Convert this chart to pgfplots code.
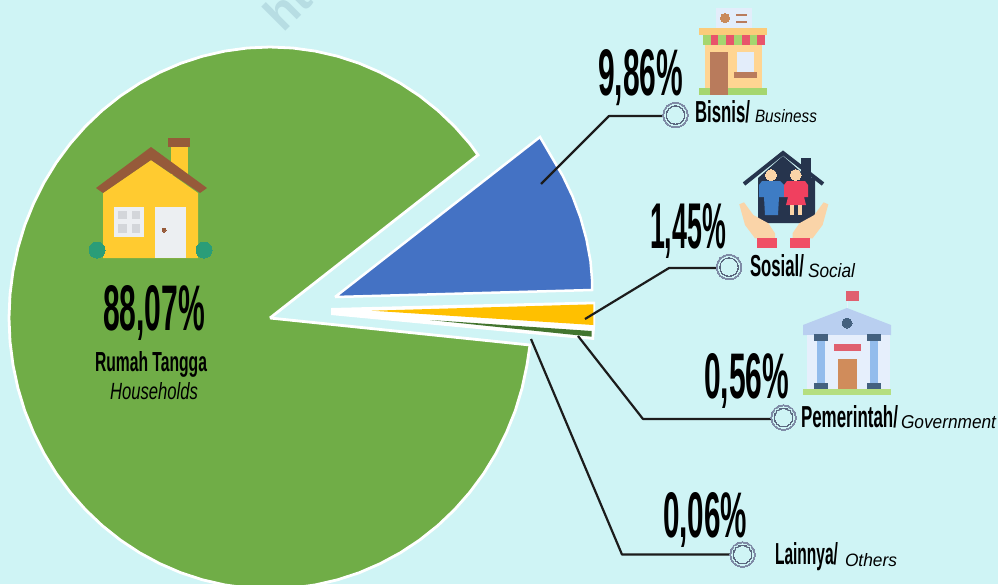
\documentclass[border=0pt]{standalone}
\usepackage{graphicx}
\usepackage{fontspec}
\setmainfont{Liberation Sans}
\usepackage{pgfplots}
\pgfplotsset{compat=1.18}
\definecolor{bg}{HTML}{CFF4F5}
\definecolor{pgreen}{HTML}{70AD47}
\definecolor{pblue}{HTML}{4472C4}
\definecolor{pyellow}{HTML}{FFC000}
\definecolor{pdark}{HTML}{43752F}
\definecolor{wm}{HTML}{B7DDE3}
\definecolor{ring}{HTML}{7F8BA6}
\definecolor{ringd}{HTML}{5A667E}
\definecolor{lead}{HTML}{1C1C1C}
\definecolor{hwall}{HTML}{FFCB30}
\definecolor{hroof}{HTML}{965A3A}
\definecolor{hbush}{HTML}{2A9D78}
\definecolor{hwin}{HTML}{ECEFF2}
\definecolor{hpane}{HTML}{D3D6DA}
\definecolor{ssign}{HTML}{E3EDFA}
\definecolor{scof}{HTML}{C98A5A}
\definecolor{sawn}{HTML}{FBCB7A}
\definecolor{swall}{HTML}{FFD592}
\definecolor{sdoor}{HTML}{B97B5C}
\definecolor{sgrn}{HTML}{A5D66F}
\definecolor{sred}{HTML}{E8546B}
\definecolor{navy}{HTML}{26344D}
\definecolor{mblue}{HTML}{3E7CC4}
\definecolor{wred}{HTML}{F0405F}
\definecolor{skin}{HTML}{FAD4A8}
\definecolor{cuff}{HTML}{F04F65}
\definecolor{gflag}{HTML}{E0606F}
\definecolor{gped}{HTML}{B9CFF0}
\definecolor{gwall}{HTML}{E6EFFC}
\definecolor{gcol}{HTML}{93BCEC}
\definecolor{gcap}{HTML}{44617F}
\definecolor{gdoor}{HTML}{D08C5B}
\definecolor{ggrd}{HTML}{B5DE80}
\newcommand{\Rc}[5]{\addplot[fill=#1,draw=none,forget plot] coordinates {(#2,#4)(#3,#4)(#3,#5)(#2,#5)};}
\newcommand{\Pg}[2]{\addplot[fill=#1,draw=none,forget plot] coordinates {#2};}
\newcommand{\Dot}[4]{\addplot[only marks,mark=*,mark size=#1pt,mark options={fill=#2,draw=#2,line width=0pt},forget plot] coordinates {(#3,#4)};}
\newcommand{\Lab}[5]{\node[anchor=base west,inner sep=0pt,outer sep=0pt] at (axis cs:#1,#2) {\resizebox{#3pt}{#4pt}{#5}};}
\newcommand{\Lead}[1]{\addplot[draw=lead,line width=2.2pt,line join=round,forget plot] coordinates {#1};}
\newcommand{\Ring}[2]{\Dot{12.8}{ring}{#1}{#2}\Dot{10.8}{bg}{#1}{#2}\Dot{9.4}{ringd}{#1}{#2}\Dot{8.0}{bg}{#1}{#2}}
\begin{document}
\begin{tikzpicture}
\begin{axis}[
  width=998pt,height=584pt,scale only axis,
  xmin=0,xmax=998,ymin=0,ymax=584,y dir=reverse,
  axis lines=none,clip=true,
]
% background
\Rc{bg}{0}{998}{0}{584}
% watermark
\node[overlay,anchor=base west,inner sep=0pt,rotate=45,text=wm] at (axis cs:283,34) {\fontsize{47}{47}\selectfont\bfseries ht};
% households slice
\addplot[fill=pgreen,draw=white,line width=2.8pt,line join=miter,forget plot] coordinates {
(270,318)(478,155)(469.9,143.8)(454.6,126.4)(437.8,110.4)(419.7,96)(400.5,83.3)(380.3,72.4)(359.3,63.3)(337.5,56.2)(315.3,51.1)(292.8,48)(270,47)
(247.2,48)(224.7,51.1)(202.5,56.2)(180.7,63.3)(159.7,72.4)(139.5,83.3)(120.3,96)(102.2,110.4)(85.4,126.4)(70.1,143.8)(56.2,162.6)(44,182.5)(33.5,203.5)(24.7,225.3)(17.9,247.9)(13,271)(10,294.4)(9,318)
(10,341.6)(13,365)(17.9,388.1)(24.7,410.7)(33.5,432.5)(44,453.5)(56.2,473.4)(70.1,492.2)(85.4,509.6)(102.2,525.6)(120.3,540)(139.5,552.7)(159.7,563.6)(180.7,572.7)(202.5,579.8)(224.7,584.9)(247.2,588)(270,589)
(292.8,588)(315.3,584.9)(337.5,579.8)(359.3,572.7)(380.3,563.6)(400.5,552.7)(419.7,540)(437.8,525.6)(454.6,509.6)(469.9,492.2)(483.8,473.4)(496,453.5)(506.5,432.5)(515.3,410.7)(522.1,388.1)(527,365)(530,345)(270,318)};
% business slice
\addplot[fill=pblue,draw=white,line width=2.5pt,line join=miter,forget plot] coordinates {
(335,297)(540,137)(551.4,156.5)(562.8,175.9)(572.5,196.2)(580.4,217.3)(586.4,239)(590.5,261.1)(592,279)(592,290)(335,297)};
% small slices
\Pg{white}{(331,308)(595,301.5)(595,327)(594,340)(331,315)}
\Pg{pyellow}{(371.7,310.7)(593.3,304.3)(593.3,325)}
\Pg{pdark}{(430,320)(591.7,331)(591.7,336.7)}
% leaders
\Lead{(541,184)(609,116)(664,116)}
\Lead{(585,319)(669,268)(718,268)}
\Lead{(578,336)(643,419)(772,419)}
\Lead{(531,339)(622,554.5)(732,554.5)}
\Ring{675.5}{115}
\Ring{729}{267}
\Ring{783.5}{417.5}
\Ring{742.5}{554.5}
% house icon
\Dot{8}{hbush}{97}{250}
\Dot{8}{hbush}{204}{250}
\Rc{pgreen}{85}{216}{258}{262}
\Rc{hwall}{170.7}{187.7}{146}{175}
\Rc{hroof}{168}{190}{138}{147}
\Pg{hwall}{(103,193)(151,160)(198,193)(198,258)(103,258)}
\Pg{hroof}{(96,188)(151,147)(207,188)(200,193)(151,160)(103,193)}
\Rc{hwin}{114}{144}{207}{237}
\Rc{hpane}{118}{127}{211}{219}
\Rc{hpane}{132}{140}{211}{219}
\Rc{hpane}{118}{127}{224}{233}
\Rc{hpane}{132}{140}{224}{233}
\Rc{hwin}{155}{186}{207}{258}
\Dot{2}{hroof}{164}{230}
% shop icon
\Rc{ssign}{716}{752}{8}{28}
\Dot{4.5}{scof}{725}{18}
\Rc{sdoor}{736}{747}{14}{16}
\Rc{sdoor}{736}{747}{21}{23}
\Rc{swall}{705}{762}{35}{88}
\Rc{sawn}{699}{767}{28}{35}
\Rc{sgrn}{702.7}{710.5}{35}{45}
\Rc{sred}{710.5}{718.3}{35}{45}
\Rc{sgrn}{718.3}{726.1}{35}{45}
\Rc{sred}{726.1}{733.9}{35}{45}
\Rc{sgrn}{733.9}{741.7}{35}{45}
\Rc{sred}{741.7}{749.5}{35}{45}
\Rc{sgrn}{749.5}{757.3}{35}{45}
\Rc{sred}{757.3}{765}{35}{45}
\Rc{sgrn}{699}{767}{88}{95}
\Rc{sdoor}{710}{728}{52}{95}
\Rc{ssign}{737}{754}{52}{72}
\Rc{sdoor}{734}{757}{72}{78}
% social icon
\Rc{navy}{801}{811}{158}{178}
\Pg{navy}{(758,178)(783,156)(808,178)(815,178)(815,223)(758,223)}
\addplot[draw=navy,line width=4pt,forget plot] coordinates {(744,184)(783,153)(823,184)};
\Pg{skin}{(739.3,204.3)(744,202.3)(753.3,215)(768.3,223.3)(775,233.3)(775,238.3)(755,238.3)(745,225)}
\Pg{skin}{(828.3,204.3)(823.6,202.3)(814.3,215)(799.3,223.3)(792.6,233.3)(792.6,238.3)(812.6,238.3)(822.6,225)}
\Rc{cuff}{757}{777}{238}{248}
\Rc{cuff}{790}{810}{238}{248}
\Dot{5.5}{skin}{771}{175}
\Dot{5.5}{skin}{795.7}{175}
\Pg{mblue}{(762,181)(780,181)(784,185)(784,197)(779,197)(778,215)(765,215)(764,197)(759,197)(759,185)}
\Pg{wred}{(787,181)(805,181)(808,185)(808,197)(804,197)(806,205)(786,205)(788,197)(784,197)(784,185)}
\Rc{skin}{790}{794}{205}{215}
\Rc{skin}{798}{802}{205}{215}
% government icon
\Rc{gflag}{846}{859}{291}{301}
\Rc{gwall}{846.5}{848}{301}{310}
\Pg{gped}{(803,325)(847,308)(891,325)(891,335)(803,335)}
\Dot{5}{gcap}{847}{323}
\Rc{gwall}{807}{890}{335}{389}
\Rc{gcol}{817}{825}{340}{383}
\Rc{gcap}{814}{828}{334}{341}
\Rc{gcap}{814}{828}{383}{389}
\Rc{gcol}{870}{878}{340}{383}
\Rc{gcap}{867}{881}{334}{341}
\Rc{gcap}{867}{881}{383}{389}
\Rc{gflag}{834}{861}{344}{351}
\Rc{gdoor}{838}{857}{359}{389}
\Rc{ggrd}{803}{891}{389}{395}
% texts
\Lab{103}{330}{102}{45}{\bfseries 88,07\%}
\Lab{95}{371}{112}{20}{\bfseries Rumah Tangga}
\Lab{110}{399}{88}{17}{\itshape Households}
\Lab{598}{95}{85}{46}{\bfseries 9,86\%}
\Lab{695}{122}{55}{22}{\bfseries Bisnis/}
\Lab{755}{122.5}{62}{13}{\itshape Business}
\Lab{650}{248}{76}{45}{\bfseries 1,45\%}
\Lab{750}{276}{54}{22}{\bfseries Sosial/}
\Lab{808}{277}{47}{14}{\itshape Social}
\Lab{704}{398}{85}{45}{\bfseries 0,56\%}
\Lab{801}{427}{97}{22}{\bfseries Pemerintah/}
\Lab{901}{428}{95}{13}{\itshape Government}
\Lab{663}{537}{84}{45}{\bfseries 0,06\%}
\Lab{775}{564}{63}{22}{\bfseries Lainnya/}
\Lab{845}{566}{52}{13}{\itshape Others}
\end{axis}
\end{tikzpicture}
\end{document}
